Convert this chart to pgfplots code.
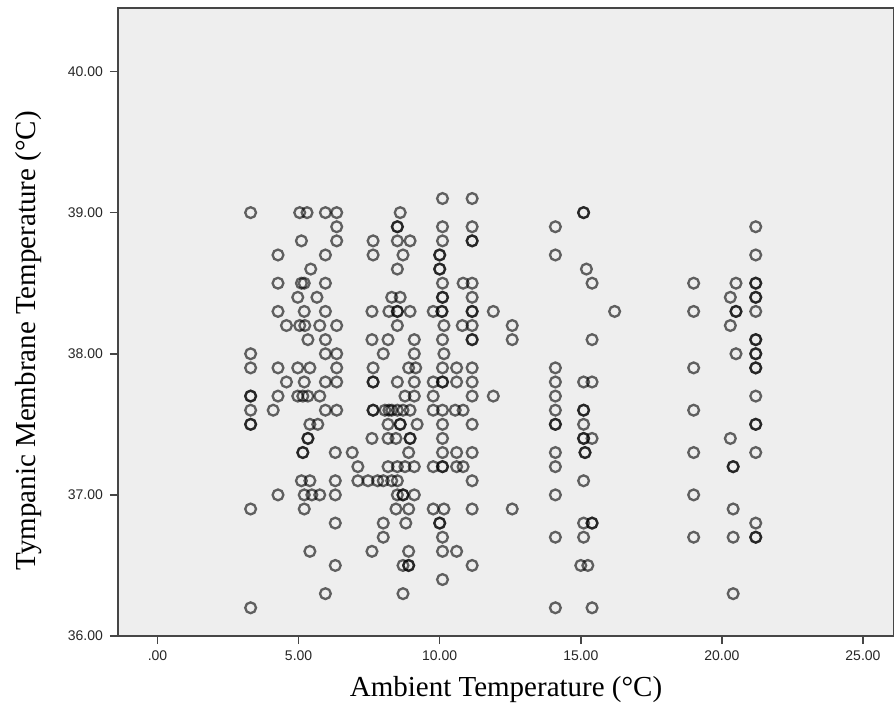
\documentclass[border=0pt]{standalone}
\usepackage{fontspec}
\setmainfont{Liberation Serif}
\setsansfont{Liberation Sans}
\usepackage{pgfplots}
\pgfplotsset{compat=1.18}
\usetikzlibrary{calc}

\definecolor{panel}{RGB}{238,238,238}
\definecolor{frame}{RGB}{70,70,70}

\begin{document}
\begin{tikzpicture}
\begin{axis}[
    scale only axis,
    width=388pt, height=314pt,
    xmin=-1.4, xmax=26.1,
    ymin=36, ymax=40.45,
    xtick={0,5,10,15,20,25},
    xticklabels={.00,5.00,10.00,15.00,20.00,25.00},
    ytick={36,37,38,39,40},
    yticklabels={36.00,37.00,38.00,39.00,40.00},
    xtick pos=bottom, ytick pos=left,
    tick align=outside,
    major tick length=4pt,
    tick style={frame, line width=0.8pt},
    axis line style={frame, line width=0.8pt},
    axis background/.style={fill=panel},
    ticklabel style={font=\sffamily\fontsize{7}{8}\selectfont, text=black!85},
    xlabel={Ambient Temperature (°C)},
    ylabel={Tympanic Membrane Temperature (°C)},
    label style={font=\fontsize{14.5}{17}\selectfont},
    xlabel style={at={(axis description cs:0.5,-0.086)}, anchor=center},
    ylabel style={at={(axis description cs:-0.115,0.47)}, anchor=center},
    clip=false,
]
% open circles; overlapping cases listed twice so they come out darker
\addplot[only marks, mark=o, mark size=2.7pt,
  mark options={draw=black, draw opacity=0.6, line width=1.15pt}]
table {
x y
3.3 39.0
3.3 38.0
3.3 37.9
3.3 37.7
3.3 37.7
3.3 37.6
3.3 37.5
3.3 37.5
3.3 36.9
3.3 36.2
4.1 37.6
4.27 38.7
4.27 38.5
4.27 38.3
4.27 37.9
4.27 37.7
4.27 37.0
4.57 38.2
4.57 37.8
4.97 38.4
4.97 37.9
4.97 37.7
5.04 39.0
5.04 38.2
5.1 38.8
5.1 38.5
5.1 37.1
5.2 38.5
5.2 38.3
5.22 38.2
5.2 37.8
5.2 37.0
5.2 36.9
5.3 39.0
5.33 38.1
5.33 37.7
5.33 37.4
5.33 37.4
5.15 37.7
5.15 37.3
5.15 37.3
5.4 37.9
5.4 37.5
5.4 37.1
5.4 36.6
5.43 38.6
5.47 37.0
5.65 38.4
5.68 37.5
5.75 38.2
5.75 37.7
5.75 37.0
5.95 39.0
5.95 38.7
5.95 38.5
5.95 38.3
5.95 38.1
5.95 38.0
5.95 37.8
5.95 37.6
5.95 36.3
6.35 39.0
6.35 38.9
6.35 38.8
6.35 38.2
6.35 38.0
6.35 37.9
6.35 37.8
6.35 37.6
6.3 37.3
6.3 37.1
6.3 37.0
6.3 36.8
6.3 36.5
6.9 37.3
7.1 37.2
7.1 37.1
7.46 37.1
7.64 38.8
7.64 38.7
7.6 38.3
7.6 38.1
7.64 37.9
7.64 37.8
7.64 37.8
7.64 37.6
7.64 37.6
7.6 37.4
7.6 36.6
7.8 37.1
8.0 38.0
8.0 37.1
8.0 36.8
8.0 36.7
8.06 37.6
8.17 38.1
8.17 37.5
8.17 37.4
8.17 37.2
8.2 38.3
8.2 37.6
8.3 38.4
8.3 37.6
8.3 37.1
8.5 38.9
8.5 38.9
8.5 38.8
8.5 38.6
8.5 38.3
8.5 38.3
8.5 38.2
8.5 37.8
8.5 37.6
8.5 37.2
8.5 37.1
8.5 37.0
8.45 37.4
8.45 36.9
8.6 39.0
8.6 38.4
8.6 37.5
8.6 37.5
8.7 38.7
8.7 37.6
8.7 37.0
8.7 37.0
8.7 36.5
8.7 36.3
8.77 37.7
8.77 37.2
8.8 36.8
8.95 38.8
8.95 38.3
8.9 37.9
8.95 37.6
8.95 37.4
8.95 37.4
8.9 37.3
8.9 36.9
8.9 36.6
8.9 36.5
8.9 36.5
9.1 38.1
9.1 38.0
9.15 37.9
9.1 37.8
9.1 37.7
9.2 37.5
9.1 37.2
9.1 37.0
9.77 38.3
9.77 37.8
9.77 37.7
9.77 37.6
9.77 37.2
9.77 36.9
10.0 38.7
10.0 38.7
10.0 38.6
10.0 38.6
10.0 36.8
10.0 36.8
10.1 39.1
10.1 38.9
10.1 38.8
10.1 38.5
10.1 38.4
10.1 38.4
10.08 38.3
10.08 38.3
10.15 38.2
10.1 38.1
10.15 38.0
10.1 37.9
10.1 37.8
10.1 37.8
10.1 37.6
10.1 37.5
10.1 37.4
10.1 37.3
10.1 37.2
10.1 37.2
10.15 36.9
10.1 36.7
10.1 36.6
10.1 36.4
10.6 37.9
10.6 37.8
10.55 37.6
10.6 37.3
10.6 37.2
10.6 36.6
10.83 38.5
10.8 38.2
10.83 37.6
10.83 37.2
11.15 39.1
11.15 38.9
11.15 38.8
11.15 38.8
11.15 38.5
11.15 38.4
11.15 38.3
11.15 38.3
11.15 38.2
11.15 38.1
11.15 38.1
11.15 37.9
11.15 37.8
11.15 37.7
11.15 37.5
11.15 37.3
11.15 37.1
11.15 36.9
11.15 36.5
11.9 38.3
11.9 37.7
12.57 38.2
12.57 38.1
12.57 36.9
14.1 38.9
14.1 38.7
14.1 37.9
14.1 37.8
14.1 37.7
14.1 37.6
14.1 37.5
14.1 37.5
14.1 37.3
14.1 37.2
14.1 37.0
14.1 36.7
14.1 36.2
15.1 39.0
15.1 39.0
15.1 37.8
15.1 37.6
15.1 37.6
15.1 37.5
15.1 37.4
15.1 37.4
15.15 37.3
15.15 37.3
15.1 37.1
15.1 36.8
15.1 36.7
15.2 38.6
15.0 36.5
15.25 36.5
15.4 38.5
15.4 38.1
15.4 37.8
15.4 37.4
15.4 36.8
15.4 36.8
15.4 36.2
16.2 38.3
19.0 38.5
19.0 38.3
19.0 37.9
19.0 37.6
19.0 37.3
19.0 37.0
19.0 36.7
20.3 38.4
20.3 38.2
20.3 37.4
20.4 37.2
20.4 37.2
20.4 36.9
20.4 36.7
20.4 36.3
20.5 38.5
20.5 38.3
20.5 38.3
20.5 38.0
21.2 38.9
21.2 38.7
21.2 38.5
21.2 38.5
21.2 38.4
21.2 38.4
21.2 38.3
21.2 38.1
21.2 38.1
21.2 38.0
21.2 38.0
21.2 37.9
21.2 37.9
21.2 37.7
21.2 37.5
21.2 37.5
21.2 37.3
21.2 36.8
21.2 36.7
21.2 36.7
};
\end{axis}
\pgfresetboundingbox
\path[use as bounding box] ($(current axis.south west)+(-59pt,-41pt)$) rectangle ($(current axis.north east)+(0pt,4pt)$);
\end{tikzpicture}
\end{document}
